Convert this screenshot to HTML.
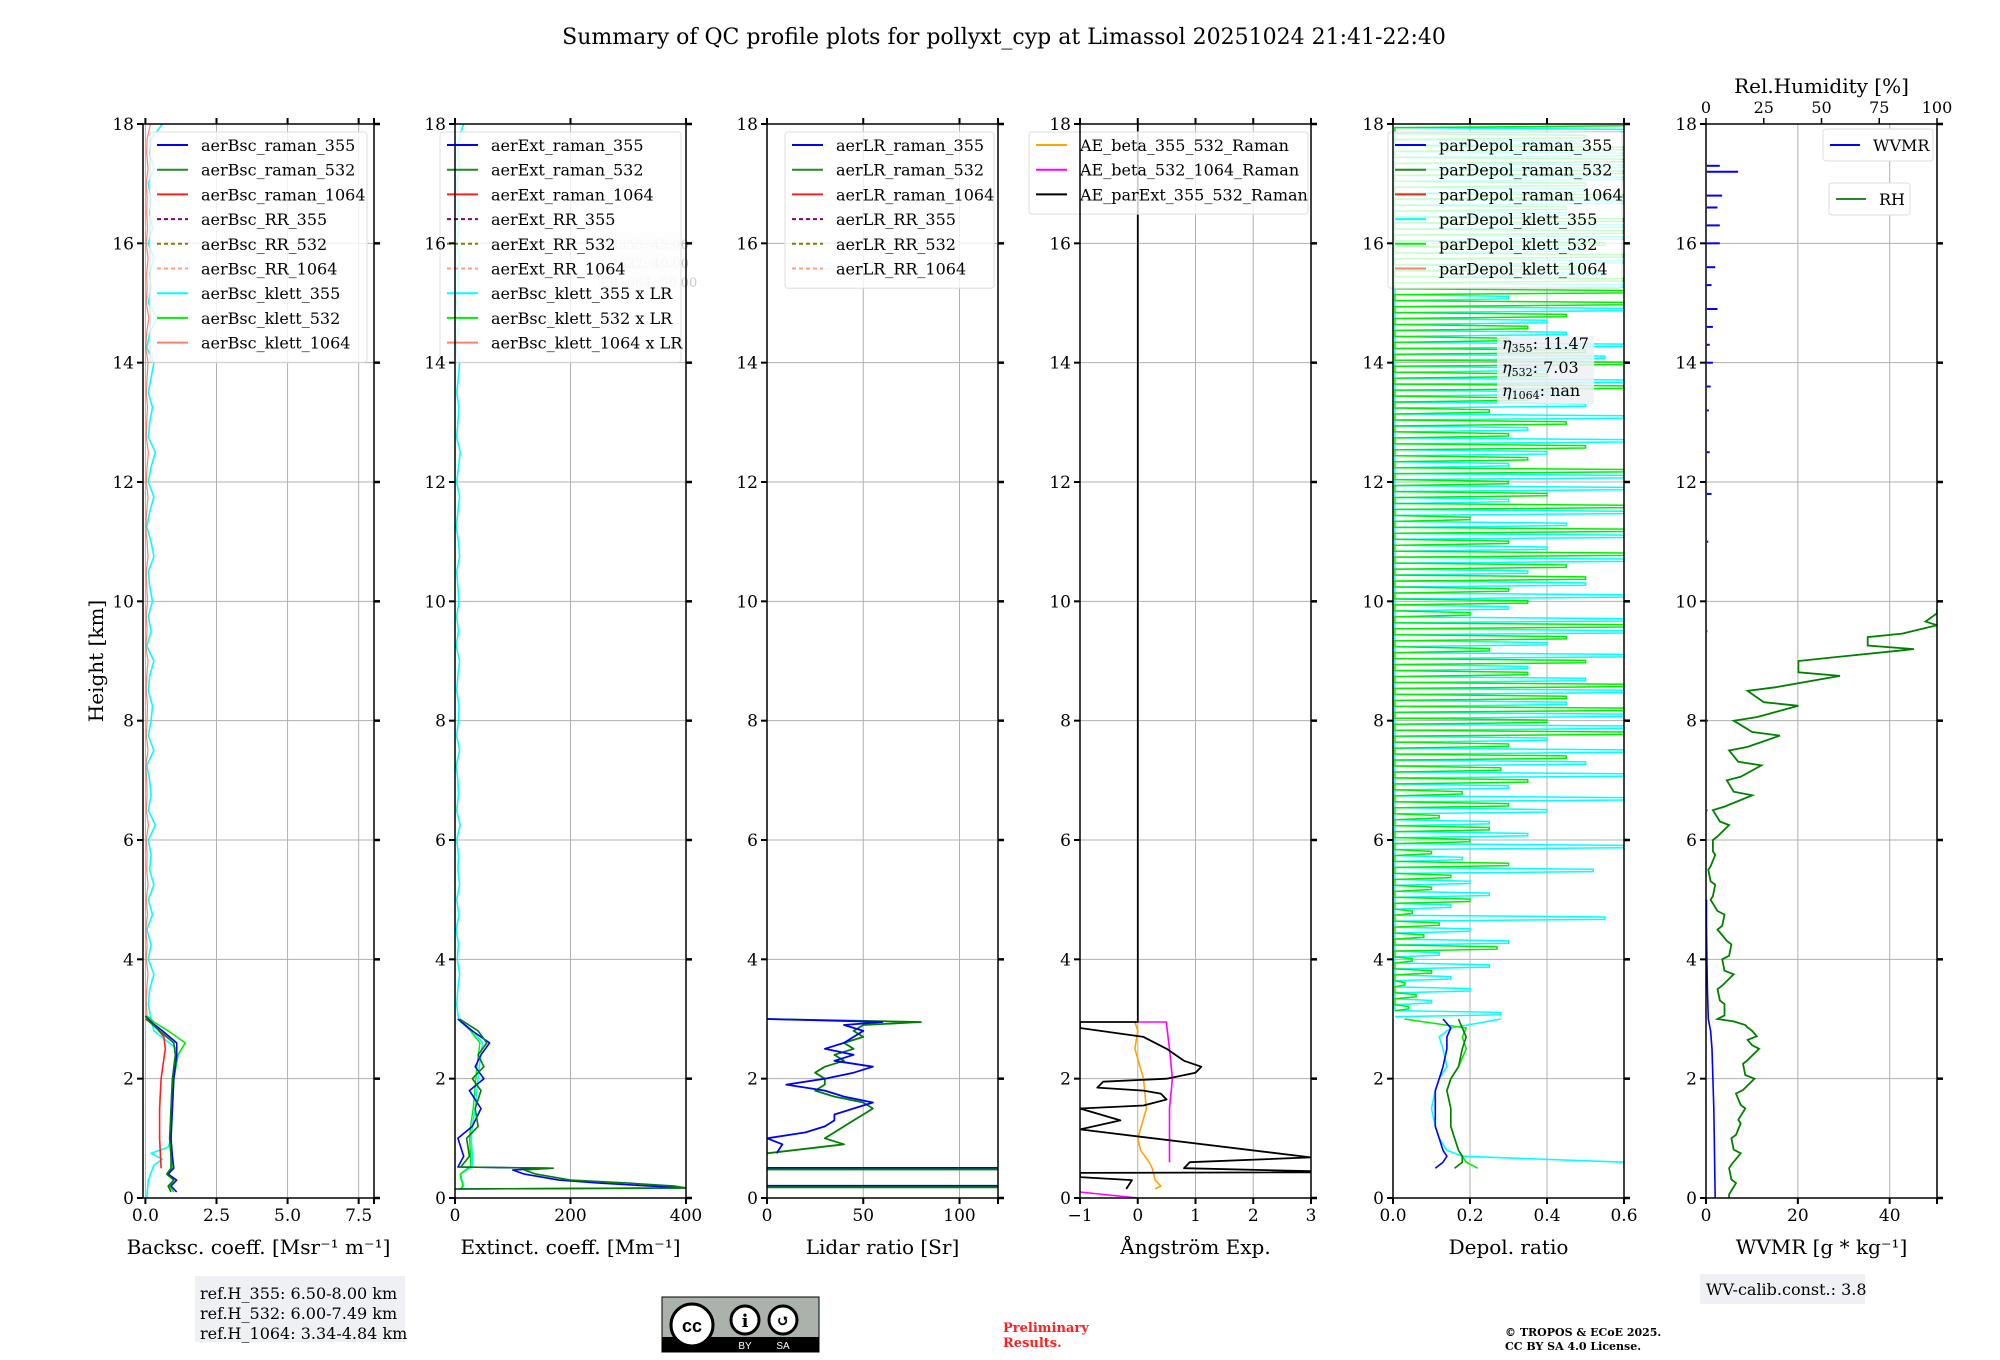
<!DOCTYPE html>
<html><head><meta charset="utf-8">
<style>
html,body{margin:0;padding:0;background:#fff;}
svg{display:block;font-family:"DejaVu Serif","Liberation Serif",serif;}
</style></head>
<body>
<svg id="fig" width="2000" height="1360" viewBox="0 0 2000 1360" xmlns="http://www.w3.org/2000/svg">
<text x="1004" y="44" font-size="22" text-anchor="middle">Summary of QC profile plots for pollyxt_cyp at Limassol 20251024 21:41-22:40</text>
<text transform="translate(103,661) rotate(-90)" font-size="20" text-anchor="middle">Height [km]</text>
<g id="panels"></g>
<g>
<rect x="195" y="1276" width="210" height="66" fill="#eef0f4"/>
<text x="200" y="1299" font-size="16">ref.H_355: 6.50-8.00 km</text>
<text x="200" y="1319" font-size="16">ref.H_532: 6.00-7.49 km</text>
<text x="200" y="1339" font-size="16">ref.H_1064: 3.34-4.84 km</text>
</g>
<g>
<rect x="1700" y="1274" width="165" height="30" fill="#eef0f4"/>
<text x="1706" y="1295" font-size="16">WV-calib.const.: 3.8</text>
</g>
<g>
<rect x="662" y="1297" width="157" height="55" fill="#aab2ab" stroke="#000" stroke-width="1"/>
<rect x="662" y="1337" width="157" height="15" fill="#000"/>
<circle cx="692" cy="1325" r="21" fill="#fff" stroke="#000" stroke-width="3"/>
<text x="692" y="1332" font-size="18" font-weight="bold" text-anchor="middle" font-family="Liberation Sans,sans-serif">cc</text>
<circle cx="745" cy="1320" r="14" fill="#fff" stroke="#000" stroke-width="3"/>
<circle cx="783" cy="1320" r="14" fill="#fff" stroke="#000" stroke-width="3"/>
<text x="745" y="1327" font-size="18" font-weight="bold" text-anchor="middle">i</text>
<text x="783" y="1326" font-size="16" font-weight="bold" text-anchor="middle">↺</text>
<text x="745" y="1349" font-size="10" fill="#fff" text-anchor="middle" font-family="Liberation Sans,sans-serif">BY</text>
<text x="783" y="1349" font-size="10" fill="#fff" text-anchor="middle" font-family="Liberation Sans,sans-serif">SA</text>
</g>
<g fill="#ff2020" font-size="13" font-weight="bold">
<text x="1003" y="1332">Preliminary</text>
<text x="1003" y="1347">Results.</text>
</g>
<g font-size="11" font-weight="bold">
<text x="1505" y="1336">© TROPOS &amp; ECoE 2025.</text>
<text x="1505" y="1350">CC BY SA 4.0 License.</text>
</g>
</svg>
<script>
// ---- data ----
const hiGrid = [3,3.25,3.5,3.75,4,4.25,4.5,4.75,5,5.25,5.5,5.75,6,6.25,6.5,6.75,7,7.25,7.5,7.75,8,8.25,8.5,8.75,9,9.25,9.5,9.75,10,10.25,10.5,10.75,11,11.25,11.5,11.75,12,12.25,12.5,12.75,13,13.25,13.5,13.75,14,14.25,14.5,14.75,15,15.25,15.5,15.75,16,16.25,16.5,16.75,17,17.25,17.5,17.75,18];
const bscKlett355Hi = [0.2,0.1,0.15,0.3,0.1,0.2,0.05,0.25,0.1,0.3,0.15,0.2,0.1,0.35,0.1,0.2,0.15,0.05,0.3,0.1,0.2,0.25,0.1,0.15,0.3,0.05,0.2,0.1,0.25,0.15,0.1,0.3,0.2,0.05,0.15,0.3,0.1,0.2,0.35,0.1,0.15,0.25,0.1,0.2,0.3,0.05,0.15,0.4,0.1,0.2,0.15,0.3,0.1,0.25,0.15,0.2,0.1,0.3,0.15,0.2,0.6];
const bscLowH = [0.1,0.2,0.3,0.4,0.5,0.7,1.0,1.5,2.0,2.4,2.6,2.8,2.95,3.05];
const bscRaman355 = [1.1,0.9,1.1,0.8,1.0,0.95,0.9,0.95,1.0,1.1,1.1,0.6,0.2,0.0];
const bscRaman532 = [0.9,0.8,1.0,0.75,0.9,0.9,0.85,0.9,0.95,1.05,1.0,0.5,0.15,0.0];
const bscKlett532 = [1.0,0.85,1.0,0.8,0.95,0.9,0.9,0.95,1.0,1.15,1.4,0.8,0.3,0.05];
const bscRaman1064H = [0.5,1.0,1.5,2.0,2.5,2.7,2.9,3.0];
const bscRaman1064 = [0.55,0.5,0.5,0.55,0.7,0.65,0.3,0.0];
const bscKlett355LowH = [0.0,0.3,0.55,0.65,0.75,0.85,1.0,1.5,2.0,2.5,2.8,3.0];
const bscKlett355Low = [0.05,0.1,0.3,0.6,0.2,0.8,0.9,0.9,0.95,1.1,0.3,0.2];

const extLowH = [0.15,0.17,0.2,0.25,0.3,0.4,0.47,0.5,0.52,0.7,1.0,1.2,1.5,1.8,2.0,2.2,2.4,2.6,2.8,3.0];
const extRaman355 = [0,400,340,250,180,120,100,160,5,15,5,30,45,25,50,35,45,60,30,5];
const extRaman532 = [0,400,380,300,200,140,120,170,10,25,20,40,35,45,30,50,40,55,40,8];
const extKlett355 = [10,12,15,14,12,10,20,25,30,30,28,30,35,38,40,42,45,48,30,5];
const extKlett355Hi = [6,3,5,8,4,6,2,7,3,8,5,6,3,9,3,6,5,2,8,3,6,7,3,5,8,2,6,3,7,5,3,8,6,2,5,8,3,6,9,3,5,7,3,6,8,2,5,10,3,6,5,8,3,7,5,6,3,8,5,6,15];

const lrH = [0.75,0.9,1.0,1.1,1.2,1.3,1.4,1.5,1.6,1.7,1.8,1.9,2.0,2.1,2.2,2.3,2.4,2.5,2.6,2.7,2.8,2.9,2.95,3.0];
const lrRaman355 = [5,8,0,20,30,35,35,45,55,40,30,10,30,45,55,35,45,30,40,45,50,40,60,0];
const lrRaman532 = [0,40,30,35,40,45,50,55,50,35,25,30,30,25,30,40,35,45,40,50,45,50,80,0];
const lrSpikeH = [0.2,0.5];

const aeParExtX = [-0.2,-0.1,-1,-1,3,3,0.8,0.9,3,-1,-0.3,-1,0.1,0.5,0.4,0.1,-0.7,-0.6,0.5,1.0,1.1,0.8,0.5,0.1,-1,-1,0,0];
const aeParExtH = [0.15,0.3,0.35,0.42,0.43,0.45,0.5,0.6,0.68,1.15,1.3,1.5,1.55,1.65,1.75,1.8,1.85,1.95,2.0,2.1,2.2,2.3,2.5,2.7,2.85,2.95,2.95,18];
const aeBeta355H = [0.15,0.2,0.3,0.5,0.6,0.8,1.0,1.5,2.0,2.5,2.8,2.95];
const aeBeta355 = [0.3,0.4,0.3,0.25,0.2,0.05,0.0,0.15,0.1,-0.05,0.0,-0.05];
const aeBeta532H = [0.6,1.0,1.5,2.0,2.5,2.9,2.95,2.95];
const aeBeta532 = [0.55,0.55,0.55,0.6,0.55,0.5,0.5,0.0];
const aeBeta532LowH = [0.1,0.0];
const aeBeta532Low = [-1,0];

const depLowH = [0.5,0.6,0.7,0.8,1.0,1.2,1.5,1.8,2.0,2.2,2.5,2.7,2.85,3.0];
const depRaman355 = [0.11,0.13,0.14,0.13,0.12,0.11,0.11,0.11,0.12,0.13,0.14,0.14,0.15,0.13];
const depRaman532 = [0.16,0.18,0.18,0.17,0.16,0.15,0.15,0.14,0.15,0.17,0.18,0.19,0.18,0.17];
const depKlett532Low = [0.22,0.19,0.18,0.17,0.16,0.15,0.15,0.14,0.15,0.17,0.19,0.18,0.19,0.03];
const depKlett355Low = [0.6,0.6,0.18,0.14,0.12,0.11,0.10,0.11,0.12,0.14,0.13,0.12,0.15,0.28];
const depHiH = [3.1,3.3,3.5,3.7,3.9,4.1,4.3,4.5,4.7,4.9,5.1,5.3,5.5,5.7,5.9,6.1,6.3,6.5,6.7,6.9,7.1,7.3,7.5,7.7,7.9,8.1,8.3,8.5,8.7,8.9,9.1,9.3,9.5,9.7,9.9,10.1,10.3,10.5,10.7,10.9,11.1,11.3,11.5,11.7,11.9,12.1,12.3,12.5,12.7,12.9,13.1,13.3,13.5,13.7,13.9,14.1,14.3,14.5,14.7,14.9,15.1,15.3,15.5,15.7,15.9,16.1,16.3,16.5,16.7,16.9,17.1,17.3,17.5,17.7,17.9];
const depKlett532Hi = [0.04,0.06,0.03,0.1,0.05,0.27,0.08,0.12,0.05,0.2,0.1,0.15,0.3,0.1,0.2,0.25,0.12,0.3,0.18,0.35,0.28,0.45,0.3,0.6,0.4,0.6,0.45,0.6,0.35,0.5,0.25,0.45,0.6,0.2,0.35,0.3,0.5,0.45,0.6,0.3,0.6,0.2,0.6,0.4,0.3,0.6,0.35,0.5,0.3,0.45,0.25,0.35,0.6,0.4,0.6,0.5,0.3,0.35,0.45,0.6,0.6,0.6,0.5,0.6,0.55,0.6,0.6,0.45,0.6,0.5,0.6,0.6,0.6,0.5,0.6];
const depKlett355Hi = [0.28,0.1,0.2,0.15,0.25,0.12,0.3,0.2,0.55,0.15,0.25,0.2,0.52,0.18,0.6,0.35,0.25,0.4,0.6,0.3,0.6,0.5,0.6,0.4,0.6,0.6,0.45,0.6,0.5,0.35,0.6,0.4,0.6,0.6,0.3,0.6,0.5,0.35,0.6,0.4,0.6,0.45,0.6,0.3,0.6,0.6,0.3,0.4,0.6,0.35,0.6,0.5,0.45,0.6,0.4,0.55,0.6,0.45,0.4,0.6,0.3,0.6,0.55,0.6,0.5,0.6,0.6,0.45,0.6,0.5,0.6,0.6,0.6,0.5,0.6];

const wvH = [0.0,0.5,1.0,1.5,2.0,2.5,2.8,3.0,3.5,4.0,4.5,5.0];
const wvmr = [2.0,1.9,1.8,1.7,1.5,1.3,1.0,0.5,0.3,0.2,0.1,0.1];
const wvSpikeH = [6.5,8.0,9.5,11.0,11.8,12.5,13.2,13.6,14.0,14.3,14.6,14.9,15.3,15.6,16.0,16.3,16.6,16.8,17.2,17.3];
const wvSpike = [0.3,0.4,0.3,0.5,1.2,0.8,0.6,1.0,1.5,0.8,1.5,2.5,1.2,2.0,3.0,3.0,2.5,3.5,7.0,3.0];
const rhH = [0.0,0.25,0.5,0.75,1.0,1.25,1.5,1.75,2.0,2.25,2.5,2.65,2.8,2.9,3.0,3.25,3.5,3.75,4.0,4.25,4.5,4.75,5.0,5.25,5.5,5.75,6.0,6.25,6.5,6.75,7.0,7.25,7.5,7.75,8.0,8.25,8.5,8.75,9.0,9.2,9.4,9.6,9.8];
const rh = [10,11,11,12,13,14,15,16,17,18,20,22,18,12,8,6,7,8,10,9,7,5,3,2,2,3,5,6,8,12,15,14,18,20,22,25,30,40,55,70,85,95,100];
const rhNoise = [0,2,-1,3,-2,1,2,-3,4,-2,3,-4,2,5,-3,2,-2,4,-3,2,-2,3,-1,2,-1,1,-2,4,-5,8,-6,10,-8,12,-10,15,-12,18,-15,20,-15,10,0];

const panelLeft = [143,455,767,1080,1393,1706];
const panelW = 231, top0 = 124, bot0 = 1198;
const xlims = [[-0.085,8.04],[0,400],[0,120],[-1,3],[0,0.6],[0,50.3]];
const xticks = [[0,2.5,5,7.5],[0,200,400],[0,50,100],[-1,0,1,2,3],[0,0.2,0.4,0.6],[0,20,40]];
const xtickLabels = [["0.0","2.5","5.0","7.5"],["0","200","400"],["0","50","100"],["\u22121","0","1","2","3"],["0.0","0.2","0.4","0.6"],["0","20","40"]];
const yticks = [0,2,4,6,8,10,12,14,16,18];
const rhTicks = [0,25,50,75,100];

const NS="http://www.w3.org/2000/svg";
const root=document.getElementById('panels');
function el(tag,attrs,parent){const e=document.createElementNS(NS,tag);for(const k in attrs)e.setAttribute(k,attrs[k]);(parent||root).appendChild(e);return e;}
function X(p,v){const l=xlims[p];return panelLeft[p]+(v-l[0])/(l[1]-l[0])*panelW;}
function Y(h){return bot0-(h/18)*(bot0-top0);}
function XR(v){return panelLeft[5]+v/100*panelW;}
function line(p,g,xs,hs,color,w,name,dash){
  const pts=xs.map((v,i)=>X(p,v).toFixed(1)+','+Y(hs[i]).toFixed(1)).join(' ');
  const pl=el('polyline',{points:pts,fill:'none',stroke:color,'stroke-width':w||1.6,'stroke-linejoin':'round'},g);
  
  
  if(dash)pl.setAttribute('stroke-dasharray',dash);
  return pl;
}
function spikes(p,g,vals,hs,color,name){
  let pts=[];
  vals.forEach((v,i)=>{const a=X(p,0.005),b=X(p,v);pts.push(a+','+Y(hs[i]-0.06),b+','+Y(hs[i]-0.03),b+','+Y(hs[i]+0.01),a+','+Y(hs[i]+0.04));});
  const pl=el('polyline',{points:pts.join(' '),fill:'none',stroke:color,'stroke-width':1.5},g);
  
  
}
function legend(g,x,y,w,entries,name){
  const lg=el('g',{},g);
  
  
  el('rect',{x:x,y:y,width:w,height:entries.length*24.7+8,rx:3,fill:'rgba(255,255,255,0.8)',stroke:'#ddd'},lg);
  entries.forEach((e,i)=>{
    const cy=y+13+i*24.7;
    const ln=el('line',{x1:x+7,x2:x+38,y1:cy,y2:cy,stroke:e[1],'stroke-width':2},lg);
    if(e[2])ln.setAttribute('stroke-dasharray','4,3');
    const t=el('text',{x:x+51,y:cy+6,'font-size':16},lg);
    t.textContent=e[0];
    
    
  });
}
const xlabels=['Backsc. coeff. [Msr\u207B\u00B9 m\u207B\u00B9]','Extinct. coeff. [Mm\u207B\u00B9]','Lidar ratio [Sr]','\u00C5ngstr\u00F6m Exp.','Depol. ratio','WVMR [g * kg\u207B\u00B9]'];
const pnames=['backscatter-panel','extinction-panel','lidar-ratio-panel','angstrom-panel','depol-panel','wvmr-panel'];

for(let p=0;p<6;p++){
  const g=el('g',{});
  
  
  const L=panelLeft[p],R=L+panelW;
  const cid='clip'+p;
  const cp=el('clipPath',{id:cid},g);el('rect',{x:L,y:top0,width:panelW,height:bot0-top0},cp);
  xticks[p].forEach(t=>{const x=X(p,t);el('line',{x1:x,x2:x,y1:top0,y2:bot0,stroke:'#b0b0b0','stroke-width':1},g);});
  yticks.forEach(t=>{el('line',{x1:L,x2:R,y1:Y(t),y2:Y(t),stroke:'#b0b0b0','stroke-width':1},g);});
  const d=el('g',{'clip-path':'url(#'+cid+')'},g);
  
  
  if(p===0){
    line(0,d,bscKlett355Hi,hiGrid,'#00ffff',1.6,'bsc-klett-355-upper');
    line(0,d,bscKlett355Low,bscKlett355LowH,'#00ffff',1.6,'bsc-klett-355-lower');
    line(0,d,bscKlett355Hi.map(v=>v*0.3),hiGrid,'#ff8070',1.2,'bsc-klett-1064-upper');
    line(0,d,bscKlett532,bscLowH,'#00ee00',1.6,'bsc-klett-532');
    line(0,d,bscRaman1064,bscRaman1064H,'#ff2020',1.6,'bsc-raman-1064');
    line(0,d,bscRaman355,bscLowH,'#0000ff',1.6,'bsc-raman-355');
    line(0,d,bscRaman532,bscLowH,'#008000',1.6,'bsc-raman-532');
    legend(g,150,132,217,[['aerBsc_raman_355','#0000ff'],['aerBsc_raman_532','#228b22'],['aerBsc_raman_1064','#ff2020'],['aerBsc_RR_355','#800080',1],['aerBsc_RR_532','#808000',1],['aerBsc_RR_1064','#ffa07a',1],['aerBsc_klett_355','#00ffff'],['aerBsc_klett_532','#00ee00'],['aerBsc_klett_1064','#fa8072']],'backscatter-legend');
  }
  if(p===1){
    line(1,d,extKlett355Hi,hiGrid,'#00ffff',1.6,'ext-klett-355-upper');
    line(1,d,extKlett355,extLowH,'#00ffff',1.6,'ext-klett-355-lower');
    line(1,d,extKlett355.map(v=>v*0.9),extLowH,'#00ee00',1.4,'ext-klett-532');
    line(1,d,extRaman355,extLowH,'#0000ff',1.6,'ext-raman-355');
    line(1,d,extRaman532,extLowH,'#008000',1.6,'ext-raman-532');
    const bx=el('g',{},g);
    
    
    el('rect',{x:598,y:232,width:82,height:58,fill:'#eef0f4',opacity:0.6},bx);
    [['LR355: 45.00',249],['LR532: 40.00',268],['LR1064: 50.00',287]].forEach(a=>{const t=el('text',{x:600,y:a[1],'font-size':13,fill:'#ccc'},bx);t.textContent=a[0];});
    legend(g,440,132,241,[['aerExt_raman_355','#0000ff'],['aerExt_raman_532','#228b22'],['aerExt_raman_1064','#ff2020'],['aerExt_RR_355','#800080',1],['aerExt_RR_532','#808000',1],['aerExt_RR_1064','#ffa07a',1],['aerBsc_klett_355 x LR','#00ffff'],['aerBsc_klett_532 x LR','#00ee00'],['aerBsc_klett_1064 x LR','#fa8072']],'extinction-legend');
  }
  if(p===2){
    line(2,d,lrRaman532,lrH,'#008000',1.8,'lr-raman-532');
    line(2,d,lrRaman355,lrH,'#0000ff',1.8,'lr-raman-355');
    lrSpikeH.forEach(h=>{line(2,d,[0,120],[h,h],'#0000ff',2.5,'lr-near-range-355');line(2,d,[0,120],[h-0.02,h-0.02],'#008000',2,'lr-near-range-532');});
    legend(g,785,132,209,[['aerLR_raman_355','#0000ff'],['aerLR_raman_532','#228b22'],['aerLR_raman_1064','#ff2020'],['aerLR_RR_355','#800080',1],['aerLR_RR_532','#808000',1],['aerLR_RR_1064','#ffa07a',1]],'lidar-ratio-legend');
  }
  if(p===3){
    line(3,d,aeBeta355,aeBeta355H,'#ffa500',1.6,'ae-beta-355-532');
    line(3,d,aeBeta532,aeBeta532H,'#ff00ff',1.6,'ae-beta-532-1064');
    line(3,d,aeBeta532Low,aeBeta532LowH,'#ff00ff',1.6,'ae-beta-532-1064-low');
    line(3,d,aeParExtX,aeParExtH,'#000000',1.8,'ae-parext-355-532');
    legend(g,1029,132,279,[['AE_beta_355_532_Raman','#ffa500'],['AE_beta_532_1064_Raman','#ff00ff'],['AE_parExt_355_532_Raman','#000000']],'angstrom-legend');
  }
  if(p===4){
    spikes(4,d,depKlett355Hi,depHiH,'#00ffff','depol-klett-355-upper');
    spikes(4,d,depKlett532Hi,depHiH.map(h=>h+0.1),'#00ee00','depol-klett-532-upper');
    line(4,d,depKlett355Low,depLowH,'#00ffff',1.6,'depol-klett-355-lower');
    line(4,d,depKlett532Low,depLowH,'#00ee00',1.6,'depol-klett-532-lower');
    line(4,d,depRaman355,depLowH,'#0000ff',1.6,'depol-raman-355');
    line(4,d,depRaman532,depLowH,'#008000',1.6,'depol-raman-532');
    legend(g,1388,132,234,[['parDepol_raman_355','#0000ff'],['parDepol_raman_532','#228b22'],['parDepol_raman_1064','#ff2020'],['parDepol_klett_355','#00ffff'],['parDepol_klett_532','#00ee00'],['parDepol_klett_1064','#fa8072']],'depol-legend');
    const bx=el('g',{},g);
    
    
    el('rect',{x:1497,y:336,width:97,height:68,fill:'#eef0f4',opacity:0.85},bx);
    [['\u03B7',349,'355',': 11.47'],['\u03B7',373,'532',': 7.03'],['\u03B7',396,'1064',': nan']].forEach(a=>{const t=el('text',{x:1502,y:a[1],'font-size':16},bx);t.innerHTML='<tspan font-style="italic">'+a[0]+'</tspan><tspan font-size="11" dy="3">'+a[2]+'</tspan><tspan dy="-3">'+a[3]+'</tspan>';});
  }
  if(p===5){
    line(5,d,wvmr,wvH,'#0000ff',1.6,'wvmr-line');
    wvSpikeH.forEach((h,i)=>{line(5,d,[0.2,wvSpike[i]],[h,h],'#0000ff',2,'wvmr-spike');});
    const pts=rh.map((v,i)=>XR(Math.max(0,Math.min(100,v+rhNoise[i]))).toFixed(1)+','+Y(rhH[i]).toFixed(1)+' '+XR(v).toFixed(1)+','+Y(rhH[i]+0.06).toFixed(1)).join(' ');
    const pl=el('polyline',{points:pts,fill:'none',stroke:'#008000','stroke-width':1.8},d);
    
    
    rhTicks.forEach(t=>{const x=XR(t);el('line',{x1:x,x2:x,y1:top0,y2:top0-6,stroke:'#000','stroke-width':1.5},g);const tl=el('text',{x:x,y:top0-11,'font-size':16,'text-anchor':'middle'},g);tl.textContent=t;});
    const tt=el('text',{x:L+panelW/2,y:93,'font-size':20,'text-anchor':'middle'},g);
    tt.textContent='Rel.Humidity [%]';
    
    
    const l1=el('g',{},g);
    
    
    el('rect',{x:1823,y:129,width:110,height:32,rx:3,fill:'#fff',stroke:'#ddd'},l1);
    el('line',{x1:1830,x2:1860,y1:145,y2:145,stroke:'#0000ff','stroke-width':2},l1);
    const a=el('text',{x:1873,y:151,'font-size':16},l1);a.textContent='WVMR';
    const l2=el('g',{},g);
    
    
    el('rect',{x:1829,y:183,width:81,height:32,rx:3,fill:'#fff',stroke:'#ddd'},l2);
    el('line',{x1:1836,x2:1866,y1:199,y2:199,stroke:'#228b22','stroke-width':2},l2);
    const b=el('text',{x:1879,y:205,'font-size':16},l2);b.textContent='RH';
  }
  el('rect',{x:L,y:top0,width:panelW,height:bot0-top0,fill:'none',stroke:'#000','stroke-width':1.5},g);
  yticks.forEach(t=>{
    el('line',{x1:L-6,x2:L,y1:Y(t),y2:Y(t),stroke:'#000','stroke-width':2},g);
    el('line',{x1:R,x2:R+6,y1:Y(t),y2:Y(t),stroke:'#000','stroke-width':2.5},g);
    const tl=el('text',{x:L-9,y:Y(t)+6,'font-size':17,'text-anchor':'end'},g);
    tl.textContent=t;
    
    
  });
  xticks[p].forEach((t,i)=>{
    const x=X(p,t);
    el('line',{x1:x,x2:x,y1:bot0,y2:bot0+6,stroke:'#000','stroke-width':2},g);
    if(p<5) el('line',{x1:x,x2:x,y1:top0,y2:top0-6,stroke:'#000','stroke-width':2},g);
    const tl=el('text',{x:x,y:bot0+23,'font-size':17,'text-anchor':'middle'},g);
    tl.textContent=xtickLabels[p][i];
    
    
  });
  if(p<5) el('line',{x1:R,x2:R,y1:top0,y2:top0-6,stroke:'#000','stroke-width':2},g);
  el('line',{x1:R,x2:R,y1:bot0,y2:bot0+6,stroke:'#000','stroke-width':2},g);
  const xl=el('text',{x:L+panelW/2,y:1254,'font-size':20,'text-anchor':'middle'},g);
  xl.textContent=xlabels[p];
  
  
}
</script>
</body></html>
